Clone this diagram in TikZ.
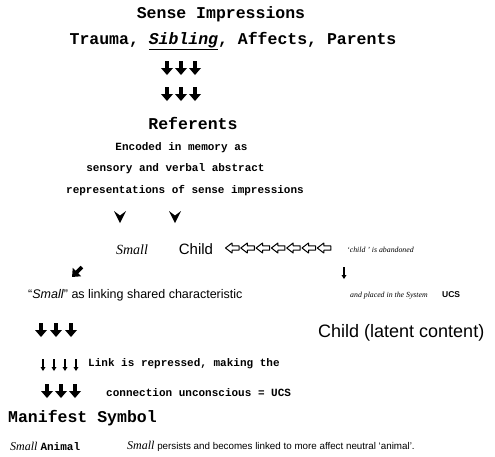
\documentclass[tikz,border=0pt]{standalone}
\usepackage{fontspec}
\setmainfont{Liberation Serif}
\setsansfont{Liberation Sans}
\setmonofont{Liberation Mono}
\usetikzlibrary{arrows.meta}

\tikzset{
  fatdown/.pic={\fill (-1.8,-7) -- (1.8,-7) -- (1.8,0) -- (6,0) -- (0,7) -- (-6,0) -- (-1.8,0) -- cycle;},
  thindown/.pic={\fill (-0.8,-6) -- (0.8,-6) -- (0.8,2) -- (2.5,2) -- (0,6) -- (-2.5,2) -- (-0.8,2) -- cycle;},
  hollowleft/.pic={\draw[line width=1pt, line join=round] (7,-2.2) -- (0,-2.2) -- (0,-5) -- (-6.5,0) -- (0,5) -- (0,2.2) -- (7,2.2) -- cycle;},
  chevdown/.pic={\fill (-6,-6) -- (0,-1.5) -- (6,-6) -- (0,6) -- cycle;},
  heading/.style={font=\ttfamily\bfseries\fontsize{16.5}{18}\selectfont},
  typed/.style={font=\ttfamily\bfseries\fontsize{11}{12}\selectfont},
  hand/.style={font=\sffamily\fontsize{15}{17}\selectfont},
  note/.style={font=\sffamily\fontsize{12.5}{14}\selectfont},
  scribble/.style={font=\itshape\fontsize{7.8}{9}\selectfont},
  slanted/.style={font=\itshape\fontsize{14}{16}\selectfont},
}

\begin{document}
\begin{tikzpicture}[x=1pt,y=-1pt,every node/.style={inner sep=0pt}]
    % Page frame
    \useasboundingbox (0,0) rectangle (495,456);

    % Top headings
    \node[heading] (title) at (221,14) {Sense Impressions};
    \node[heading] (sources) at (233,41) {Trauma, \underline{\textit{Sibling}}, Affects, Parents};

    % Fat arrows down to the referents
    \foreach \y in {68,94}
      \foreach \x in {167,181,195}
        \pic at (\x,\y) {fatdown};

    \node[heading] (referents) at (193,123) {Referents};
    \node[typed] (encoded) at (181.5,148) {Encoded in memory as};
    \node[typed] (sensory) at (175.5,169) {sensory and verbal abstract};
    \node[typed] (reprs) at (185,191) {representations of sense impressions};

    % Split into the two words
    \pic at (120,217) {chevdown};
    \pic at (175,217) {chevdown};

    \node[slanted] (small) at (132,250) {Small};
    \node[hand] (child) at (196,249) {Child};
    \foreach \i in {0,...,6}
      \pic at (232+15.3*\i,248) {hollowleft};
    \node[scribble, anchor=west] (abandoned) at (347,250) {`child ' is abandoned};

    % Two branches
    \pic[rotate=-45] at (77,272) {fatdown};
    \pic at (344,273) {thindown};

    \node[note, anchor=west] (linking) at (28,295) {``\textit{Small}'' as linking shared characteristic};
    \node[scribble, anchor=west] (placed) at (350,296) {and placed in the System};
    \node[font=\sffamily\bfseries\fontsize{8.5}{10}\selectfont, anchor=west] (ucs) at (442,295) {UCS};

    % Left branch goes down
    \foreach \x in {41,56,71}
      \pic at (\x,330) {fatdown};
    \node[hand, font=\sffamily\fontsize{18}{20}\selectfont, anchor=west] (latent) at (318,333) {Child (latent content)};

    \foreach \x in {43,54,65,76}
      \pic at (\x,365) {thindown};
    \node[typed, anchor=west] (repressed) at (88,364) {Link is repressed, making the};

    \foreach \x in {47,61,75}
      \pic at (\x,391) {fatdown};
    \node[typed, anchor=west] (unconscious) at (106,393) {connection unconscious = UCS};

    % Result
    \node[heading, anchor=west] (manifest) at (8,418) {Manifest Symbol};
    \node[font=\itshape\fontsize{12}{14}\selectfont, anchor=west] (smallanimal) at (10,446) {Small \upshape\ttfamily\bfseries\fontsize{11}{12}\selectfont Animal};
    \node[font=\sffamily\fontsize{9.8}{11}\selectfont, anchor=west] (persists) at (127,446) {\textit{\rmfamily\fontsize{12}{14}\selectfont Small} persists and becomes linked to more affect neutral `animal'.};
\end{tikzpicture}
\end{document}
